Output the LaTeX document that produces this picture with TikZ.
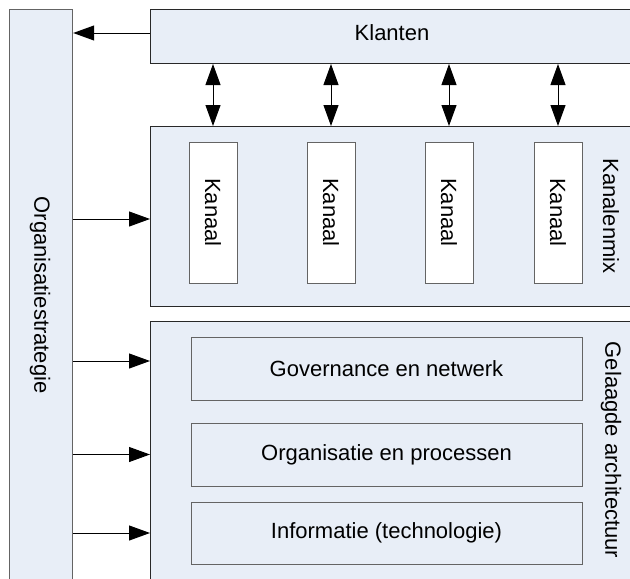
\documentclass[tikz,border=0pt]{standalone}
\usepackage{fontspec}
\setmainfont{Liberation Sans}
\usetikzlibrary{arrows.meta}
\definecolor{panel}{RGB}{232,238,247}
\definecolor{edge}{RGB}{40,40,40}
\definecolor{soft}{RGB}{100,100,100}
\tikzset{
  panelbox/.style={draw=edge, fill=panel, line width=1pt, inner sep=0pt, anchor=north west},
  layerbox/.style={draw=soft, fill=panel, line width=1pt, minimum width=391pt, minimum height=63pt, inner sep=0pt},
  chanbox/.style={draw=soft, fill=white, line width=1pt, minimum width=48pt, minimum height=141pt, inner sep=0pt},
  vlabel/.style={rotate=-90, inner sep=0pt},
  txt/.style={font=\fontsize{22}{26}\selectfont},
  arr/.style={-{Triangle[length=21pt,width=15pt]}, line width=1pt, black},
  darr/.style={{Triangle[length=21pt,width=15pt]}-{Triangle[length=21pt,width=15pt]}, line width=1pt, black},
}
\begin{document}
\begin{tikzpicture}[x=1pt, y=-1pt, txt]
\useasboundingbox (0,0) rectangle (630,579);

% strategy column on the left
\node[draw=soft, fill=panel, line width=1.2pt, anchor=north west,
      minimum width=63pt, minimum height=572pt, inner sep=0pt] (org) at (9,9) {};
\node[vlabel] (orglbl) at (40,295) {Organisatiestrategie};

% customers
\node[panelbox, minimum width=484pt, minimum height=54pt] (klant) at (150,9) {};
\node (klantlbl) at (392,33) {Klanten};

% channel mix
\node[panelbox, minimum width=484pt, minimum height=180pt] (kmix) at (150,126) {};
\node[vlabel] (kmixlbl) at (611,216) {Kanalenmix};
\node[chanbox] (k1) at (213,212.5) {};
\node[chanbox] (k2) at (331,212.5) {};
\node[chanbox] (k3) at (449,212.5) {};
\node[chanbox] (k4) at (558,212.5) {};
\foreach \k in {k1,k2,k3,k4}
  \node[vlabel] at (\k) {Kanaal};

% layered architecture
\node[panelbox, minimum width=484pt, minimum height=280pt] (arch) at (150,321) {};
\node[vlabel] (archlbl) at (611,450) {Gelaagde architectuur};
\node[layerbox] (l1) at (386.5,368.5) {Governance en netwerk};
\node[layerbox] (l2) at (386.5,454.5) {Organisatie en processen};
\node[layerbox, minimum height=62pt] (l3) at (386.5,533) {Informatie (technologie)};

% connectors
\draw[arr] (klant.west |- 0,33) -- (org.east |- 0,33);
\foreach \k in {k1,k2,k3,k4}
  \draw[darr] (klant.south -| \k.center) -- (kmix.north -| \k.center);
\draw[arr] (org.east |- 0,219) -- (kmix.west |- 0,219);
\draw[arr] (org.east |- 0,361) -- (arch.west |- 0,361);
\draw[arr] (org.east |- l2.center) -- (arch.west |- l2.center);
\draw[arr] (org.east |- l3.center) -- (arch.west |- l3.center);
\end{tikzpicture}
\end{document}
